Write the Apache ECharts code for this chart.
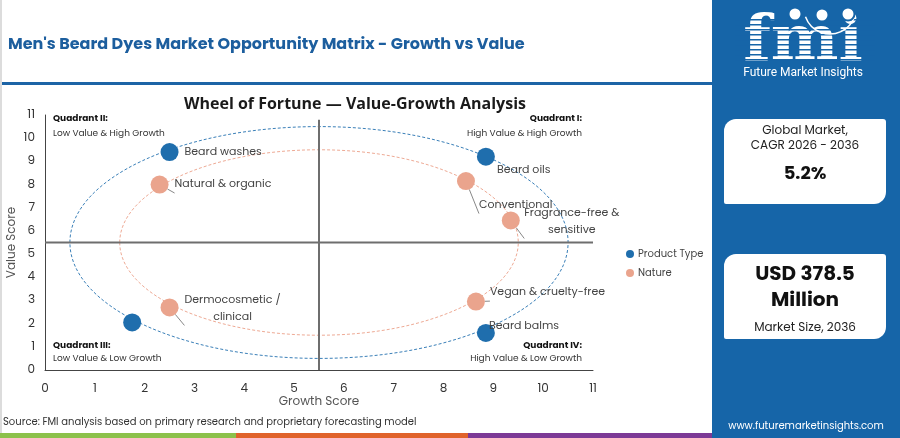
<!DOCTYPE html>
<html>
<head>
<meta charset="utf-8">
<script src="https://cdn.jsdelivr.net/npm/echarts@6/dist/echarts.min.js"></script>
<style>
html,body{margin:0;padding:0;background:#fff;}
#main{width:900px;height:438px;}
</style>
</head>
<body>
<div id="main"></div>
<script>
// ---- data ----
const productTypeNames = ['Beard washes', 'Beard oils', 'Beard balms', 'Beard dyes'];
const productTypeGrowth = [2.5, 8.85, 8.85, 1.75];
const productTypeValue = [9.4, 9.2, 1.6, 2.05];

const natureNames = ['Natural & organic', 'Conventional', 'Fragrance-free &\nsensitive', 'Dermocosmetic /\nclinical', 'Vegan & cruelty-free'];
const natureGrowth = [2.3, 8.45, 9.35, 2.5, 8.65];
const natureValue = [8.0, 8.15, 6.45, 2.7, 2.95];

const ringCenter = [5.5, 5.5];
const ringRadii = [5, 4];           // outer (product type), inner (nature)
const quadrantSplit = 5.5;
const axisMax = 11;
const verticalSplitTop = 10.8;

// ---- styles (kept separate from data) ----
const BLUE = '#1f6ead';
const ORANGE = '#eaa48d';
const PANEL = '#1665a8';
const labelStyleP = {
  'Beard washes': {position: 'right', distance: 6},
  'Beard oils': {position: 'right', offset: [-3, 14]},
  'Beard balms': {position: 'right', offset: [-11, -7]},
  'Beard dyes': {show: false}
};
const labelStyleN = {
  'Natural & organic': {position: 'right', distance: 6},
  'Conventional': {position: 'right', offset: [-1, 24]},
  'Fragrance-free &\nsensitive': {position: 'right', offset: [-2, 1], align: 'center', distance: 54},
  'Dermocosmetic /\nclinical': {position: 'right', offset: [0, 1], align: 'center', distance: 54},
  'Vegan & cruelty-free': {position: 'right', offset: [0, -9]}
};

const FONT = "'Poppins','Open Sans','Noto Sans',sans-serif";

function pts(names, xs, ys, styles) {
  return names.map((n, i) => ({
    name: n,
    value: [xs[i], ys[i]],
    label: Object.assign({show: true}, styles[n] || {})
  }));
}

const chart = echarts.init(document.getElementById('main'), null, {renderer: 'canvas'});

const ringData = ringRadii.map(r => [ringCenter[0], ringCenter[1], r]);

const option = {
  animation: false,
  backgroundColor: '#ffffff',
  grid: {left: 45, right: 307, top: 115, bottom: 68, containLabel: false, outerBoundsMode: 'none'},
  xAxis: {
    type: 'value', min: 0, max: axisMax, interval: 1,
    name: 'Growth Score', nameLocation: 'middle', nameGap: 26, nameMoveOverlap: false,
    nameTextStyle: {color: '#555', fontSize: 12, fontFamily: FONT},
    axisLine: {show: true, lineStyle: {color: '#444', width: 1}},
    axisTick: {show: false},
    axisLabel: {color: '#333', fontSize: 12, margin: 13, fontFamily: FONT},
    splitLine: {show: false}
  },
  yAxis: {
    type: 'value', min: 0, max: axisMax, interval: 1,
    name: 'Value Score', nameLocation: 'middle', nameGap: 27, nameMoveOverlap: false,
    nameTextStyle: {color: '#555', fontSize: 12, fontFamily: FONT},
    axisLine: {show: true, lineStyle: {color: '#444', width: 1}},
    axisTick: {show: false},
    axisLabel: {color: '#333', fontSize: 12, margin: 10, fontFamily: FONT},
    splitLine: {show: false}
  },
  legend: {
    orient: 'vertical', left: 621, top: 244, itemGap: 9,
    itemWidth: 8, itemHeight: 8, icon: 'circle',
    textStyle: {color: '#444', fontSize: 10, fontFamily: FONT, padding: [0, 0, 0, -1]},
    data: ['Product Type', 'Nature']
  },
  graphic: [
    // header
    {type: 'text', left: 8, top: 37, style: {text: "Men's Beard Dyes Market Opportunity Matrix - Growth vs Value", fill: '#1c5e9e', font: "bold 16px " + FONT}},
    {type: 'rect', shape: {x: 0, y: 82, width: 712, height: 3}, style: {fill: '#1c64a6'}},
    {type: 'rect', shape: {x: 0, y: 0, width: 2, height: 438}, style: {fill: '#dcdcdc'}},
    // chart title
    {type: 'text', x: 355, y: 104, style: {text: 'Wheel of Fortune — Value-Growth Analysis', fill: '#1a1a1a', font: "bold 16px 'Open Sans','Noto Sans',sans-serif", textAlign: 'center', textVerticalAlign: 'middle'}},
    // quadrant labels
    {type: 'text', x: 53, y: 119, style: {text: 'Quadrant II:', fill: '#111', font: "bold 9px " + FONT, textVerticalAlign: 'middle'}},
    {type: 'text', x: 53, y: 134, style: {text: 'Low Value & High Growth', fill: '#333', font: "9px " + FONT, textVerticalAlign: 'middle'}},
    {type: 'text', x: 582, y: 119, style: {text: 'Quadrant I:', fill: '#111', font: "bold 9px " + FONT, textAlign: 'right', textVerticalAlign: 'middle'}},
    {type: 'text', x: 582, y: 134, style: {text: 'High Value & High Growth', fill: '#333', font: "9px " + FONT, textAlign: 'right', textVerticalAlign: 'middle'}},
    {type: 'text', x: 53, y: 346, style: {text: 'Quadrant III:', fill: '#111', font: "bold 9px " + FONT, textVerticalAlign: 'middle'}},
    {type: 'text', x: 53, y: 359, style: {text: 'Low Value & Low Growth', fill: '#333', font: "9px " + FONT, textVerticalAlign: 'middle'}},
    {type: 'text', x: 582, y: 346, style: {text: 'Quadrant IV:', fill: '#111', font: "bold 9px " + FONT, textAlign: 'right', textVerticalAlign: 'middle'}},
    {type: 'text', x: 582, y: 359, style: {text: 'High Value & Low Growth', fill: '#333', font: "9px " + FONT, textAlign: 'right', textVerticalAlign: 'middle'}},
    // footer
    {type: 'text', x: 3, y: 422, style: {text: 'Source: FMI analysis based on primary research and proprietary forecasting model', fill: '#333', font: "10px " + FONT, textVerticalAlign: 'middle'}},
    {type: 'rect', shape: {x: 0, y: 433, width: 236, height: 5}, style: {fill: '#8cc14b'}},
    {type: 'rect', shape: {x: 236, y: 433, width: 232, height: 5}, style: {fill: '#e0632b'}},
    {type: 'rect', shape: {x: 468, y: 433, width: 244, height: 5}, style: {fill: '#7c3996'}},
    // right panel
    {type: 'rect', shape: {x: 712, y: 0, width: 188, height: 438}, style: {fill: PANEL}},
    {type: 'text', x: 803, y: 43, style: {text: 'fmi', fill: '#ffffff', font: "bold 64px 'DejaVu Serif','Liberation Serif',serif", textAlign: 'center', textVerticalAlign: 'middle'}},
    {type: 'group', children: [19, 24, 29, 34, 39, 44, 49, 54, 59].map(yy => ({type: 'rect', shape: {x: 735, y: yy, width: 140, height: 1.4}, style: {fill: PANEL}}))},
    {type: 'arc', shape: {cx: 830, cy: 8, r: 26, startAngle: 0.35, endAngle: 2.8}, style: {stroke: '#ffffff', lineWidth: 1.5, fill: 'none'}},
    {type: 'circle', shape: {cx: 795, cy: 14, r: 6.5}, style: {fill: '#ffffff', stroke: PANEL, lineWidth: 2}},
    {type: 'circle', shape: {cx: 822, cy: 15, r: 6.5}, style: {fill: '#ffffff', stroke: PANEL, lineWidth: 2}},
    {type: 'circle', shape: {cx: 848, cy: 14, r: 6.5}, style: {fill: '#ffffff', stroke: PANEL, lineWidth: 2}},
    {type: 'text', x: 803, y: 73, style: {text: 'Future Market Insights', fill: '#ffffff', font: "12px 'Roboto','Noto Sans',sans-serif", textAlign: 'center', textVerticalAlign: 'middle'}},
    {type: 'rect', shape: {x: 724, y: 119, width: 162, height: 85, r: [12, 3, 12, 2]}, style: {fill: '#ffffff'}},
    {type: 'text', x: 805, y: 131, style: {text: 'Global Market,', fill: '#222', font: "12px " + FONT, textAlign: 'center', textVerticalAlign: 'middle'}},
    {type: 'text', x: 805, y: 146, style: {text: 'CAGR 2026 - 2036', fill: '#222', font: "12px " + FONT, textAlign: 'center', textVerticalAlign: 'middle'}},
    {type: 'text', x: 805, y: 174, style: {text: '5.2%', fill: '#111', font: "bold 18px " + FONT, textAlign: 'center', textVerticalAlign: 'middle'}},
    {type: 'rect', shape: {x: 724, y: 254, width: 162, height: 85, r: [12, 3, 12, 2]}, style: {fill: '#ffffff'}},
    {type: 'text', x: 805, y: 275, style: {text: 'USD 378.5', fill: '#111', font: "bold 20px " + FONT, textAlign: 'center', textVerticalAlign: 'middle'}},
    {type: 'text', x: 805, y: 301, style: {text: 'Million', fill: '#111', font: "bold 20px " + FONT, textAlign: 'center', textVerticalAlign: 'middle'}},
    {type: 'text', x: 805, y: 328, style: {text: 'Market Size, 2036', fill: '#222', font: "12px " + FONT, textAlign: 'center', textVerticalAlign: 'middle'}},
    {type: 'text', x: 806, y: 426, style: {text: 'www.futuremarketinsights.com', fill: '#ffffff', font: "10px " + FONT, textAlign: 'center', textVerticalAlign: 'middle'}}
  ],
  series: [
    {
      type: 'custom', name: 'rings', silent: true, z: 1,
      data: ringData,
      renderItem: function (params, api) {
        const c = api.coord([api.value(0), api.value(1)]);
        const r = api.value(2);
        const sz = api.size([r, r]);
        return {
          type: 'ellipse',
          shape: {cx: c[0], cy: c[1], rx: sz[0], ry: sz[1]},
          style: {fill: 'none', stroke: params.dataIndex === 0 ? '#3a7fb8' : '#eeaa95', lineWidth: 1, lineDash: [3, 2]}
        };
      }
    },
    {
      type: 'line', name: 'hsplit', silent: true, symbol: 'none', z: 2,
      data: [[0, quadrantSplit], [axisMax, quadrantSplit]],
      lineStyle: {color: '#6e6e6e', width: 2}
    },
    {
      type: 'line', name: 'vsplit', silent: true, symbol: 'none', z: 2,
      data: [[quadrantSplit, 0], [quadrantSplit, verticalSplitTop]],
      lineStyle: {color: '#6e6e6e', width: 2}
    },
    {
      type: 'scatter', name: 'Product Type', z: 5,
      symbolSize: 18,
      itemStyle: {color: BLUE, opacity: 1},
      label: {show: true, formatter: '{b}', color: '#444', fontSize: 11, fontFamily: FONT, lineHeight: 17},
      data: pts(productTypeNames, productTypeGrowth, productTypeValue, labelStyleP)
    },
    {
      type: 'scatter', name: 'Nature', z: 5,
      symbolSize: 18,
      itemStyle: {color: ORANGE, opacity: 1},
      label: {show: true, formatter: '{b}', color: '#444', fontSize: 11, fontFamily: FONT, lineHeight: 17},
      labelLine: {show: true, lineStyle: {color: '#888', width: 1}},
      data: pts(natureNames, natureGrowth, natureValue, labelStyleN)
    }
  ]
};
chart.setOption(option);
</script>
</body>
</html>
